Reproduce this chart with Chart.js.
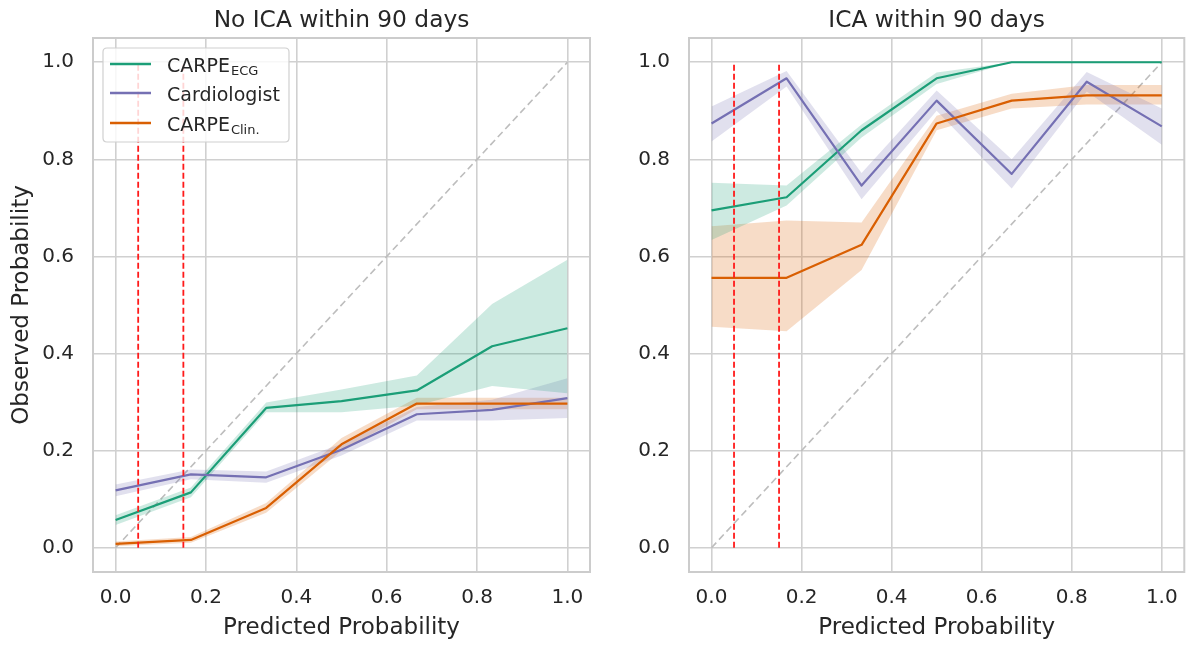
<!DOCTYPE html>
<html><head><meta charset="utf-8">
<script src="https://cdn.jsdelivr.net/npm/chart.js@4.4.1/dist/chart.umd.min.js"></script>
<style>
html,body{margin:0;padding:0;background:#fff;}
#wrap{position:relative;width:1192px;height:645px;overflow:hidden;background:#fff;}
canvas{position:absolute;top:0;}
#c1{left:0;} #c2{left:600px;}
</style></head><body>
<div id="wrap"><canvas id="c1" width="600" height="645"></canvas><canvas id="c2" width="592" height="645"></canvas></div>
<script>
// ---- data ----
const probBins = [0, 0.1667, 0.3333, 0.5, 0.6667, 0.8333, 1.0];
const tickValues = [0, 0.2, 0.4, 0.6, 0.8, 1.0];
const thresholds = [0.05, 0.15];
const panelTitles = ['No ICA within 90 days', 'ICA within 90 days'];
const seriesMain = ['CARPE', 'Cardiologist', 'CARPE'];
const seriesSub = ['ECG', '', 'Clin.'];
const seriesColors = ['#1b9e77', '#7570b3', '#d95f02'];

// panel 1: No ICA within 90 days
const ecgMeanL  = [0.057, 0.114, 0.288, 0.302, 0.324, 0.415, 0.452];
const ecgLoL    = [0.047, 0.104, 0.279, 0.279, 0.293, 0.333, 0.318];
const ecgHiL    = [0.067, 0.124, 0.299, 0.326, 0.355, 0.502, 0.593];
const cardMeanL = [0.118, 0.151, 0.145, 0.202, 0.275, 0.284, 0.308];
const cardLoL   = [0.106, 0.141, 0.134, 0.190, 0.262, 0.262, 0.267];
const cardHiL   = [0.130, 0.161, 0.157, 0.214, 0.290, 0.305, 0.349];
const clinMeanL = [0.008, 0.016, 0.082, 0.213, 0.297, 0.297, 0.297];
const clinLoL   = [0.003, 0.010, 0.072, 0.200, 0.285, 0.285, 0.285];
const clinHiL   = [0.013, 0.022, 0.092, 0.226, 0.309, 0.309, 0.309];

// panel 2: ICA within 90 days
const ecgMeanR  = [0.695, 0.722, 0.860, 0.967, 1.0, 1.0, 1.0];
const ecgLoR    = [0.634, 0.705, 0.845, 0.955, 1.0, 1.0, 1.0];
const ecgHiR    = [0.752, 0.746, 0.872, 0.979, 1.0, 1.0, 1.0];
const cardMeanR = [0.874, 0.967, 0.746, 0.921, 0.770, 0.960, 0.868];
const cardLoR   = [0.837, 0.950, 0.718, 0.900, 0.740, 0.940, 0.830];
const cardHiR   = [0.909, 0.982, 0.772, 0.942, 0.800, 0.980, 0.905];
const clinMeanR = [0.556, 0.556, 0.624, 0.874, 0.921, 0.932, 0.932];
const clinLoR   = [0.455, 0.446, 0.572, 0.860, 0.905, 0.913, 0.913];
const clinHiR   = [0.662, 0.674, 0.670, 0.890, 0.935, 0.953, 0.953];

// ---- helpers ----
Chart.defaults.font.family = '"DejaVu Sans", sans-serif';
Chart.defaults.color = '#262626';
const TXT = '#262626';
const GRID = '#d0d0d0';

function pts(ys){ return ys.map((y,i)=>({x: probBins[i], y})); }
function rgba(hex, a){
  const n = parseInt(hex.slice(1),16);
  return `rgba(${(n>>16)&255},${(n>>8)&255},${n&255},${a})`;
}
function buildDatasets(means, los, his){
  const ds = [];
  ds.push({data:[{x:0,y:0},{x:1,y:1}], borderColor:'#bdbdbd', borderWidth:1.6, borderDash:[7,4], pointRadius:0, fill:false, order:30});
  for (let i=0;i<means.length;i++){
    ds.push({data:pts(his[i]), borderColor:'rgba(0,0,0,0)', borderWidth:0, backgroundColor:rgba(seriesColors[i],0.22), fill:'+1', pointRadius:0, order:20});
    ds.push({data:pts(los[i]), borderColor:'rgba(0,0,0,0)', borderWidth:0, fill:false, pointRadius:0, order:20});
  }
  for (let i=0;i<means.length;i++){
    ds.push({data:pts(means[i]), borderColor:seriesColors[i], borderWidth:2.2, borderJoinStyle:'round', fill:false, pointRadius:0, order:10-i});
  }
  thresholds.forEach(t=>{
    ds.push({data:[{x:t,y:0},{x:t,y:1}], borderColor:'#ff1a1a', borderWidth:1.8, borderDash:[6,3], pointRadius:0, fill:false, order:1});
  });
  return ds;
}

const decor = {
  id:'decor',
  afterDraw(chart, args, opts){
    const {ctx, chartArea:a} = chart;
    ctx.save();
    ctx.strokeStyle = '#cccccc'; ctx.lineWidth = 2;
    ctx.strokeRect(a.left, a.top, a.right-a.left, a.bottom-a.top);
    ctx.fillStyle = TXT;
    ctx.font = '23.3px "DejaVu Sans"';
    ctx.textAlign = 'center'; ctx.textBaseline = 'alphabetic';
    ctx.fillText(opts.title, (a.left+a.right)/2, 27);
    if (opts.legend){
      const bx = a.left+10, by = a.top+10, bw = 186, bh = 94, r = 4;
      ctx.beginPath();
      ctx.moveTo(bx+r,by); ctx.lineTo(bx+bw-r,by); ctx.quadraticCurveTo(bx+bw,by,bx+bw,by+r);
      ctx.lineTo(bx+bw,by+bh-r); ctx.quadraticCurveTo(bx+bw,by+bh,bx+bw-r,by+bh);
      ctx.lineTo(bx+r,by+bh); ctx.quadraticCurveTo(bx,by+bh,bx,by+bh-r);
      ctx.lineTo(bx,by+r); ctx.quadraticCurveTo(bx,by,bx+r,by); ctx.closePath();
      ctx.fillStyle = 'rgba(255,255,255,0.82)'; ctx.fill();
      ctx.strokeStyle = '#d0d0d0'; ctx.lineWidth = 1.2; ctx.stroke();
      const rows = [by+16, by+45, by+75];
      ctx.textAlign = 'left';
      for (let i=0;i<3;i++){
        ctx.strokeStyle = seriesColors[i]; ctx.lineWidth = 2.4;
        ctx.beginPath(); ctx.moveTo(bx+7, rows[i]); ctx.lineTo(bx+48, rows[i]); ctx.stroke();
        ctx.fillStyle = TXT;
        ctx.font = '19px "DejaVu Sans"';
        ctx.textBaseline = 'alphabetic';
        const base = rows[i] + 8;
        ctx.fillText(seriesMain[i], bx+64, base);
        if (seriesSub[i]){
          const w = ctx.measureText(seriesMain[i]).width;
          ctx.font = '13px "DejaVu Sans"';
          ctx.fillText(seriesSub[i], bx+64+w+1, base+2.5);
        }
      }
    }
    ctx.restore();
  }
};

function makeChart(id, title, means, los, his, yWidth, padRight, showYTitle, showLegend){
  return new Chart(document.getElementById(id), {
    type:'line',
    data:{datasets: buildDatasets(means, los, his)},
    plugins:[decor],
    options:{
      responsive:false, animation:false, devicePixelRatio:1,
      layout:{padding:{top:38, right:padRight, left:0, bottom:0}},
      plugins:{legend:{display:false}, tooltip:{enabled:false}, decor:{title, legend:showLegend}},
      scales:{
        x:{type:'linear', min:-0.05, max:1.05,
          afterBuildTicks(s){ s.ticks = tickValues.map(v=>({value:v})); },
          afterFit(s){ s.height = 73; },
          ticks:{font:{size:20}, color:TXT, padding:14, maxRotation:0, callback:v=>Number(v).toFixed(1)},
          grid:{color:GRID, lineWidth:1.6, drawTicks:false},
          border:{display:false},
          title:{display:true, text:'Predicted Probability', font:{size:23}, color:TXT, padding:{top:0,bottom:3}}
        },
        y:{type:'linear', min:-0.05, max:1.05,
          afterBuildTicks(s){ s.ticks = tickValues.map(v=>({value:v})); },
          afterFit(s){ s.width = yWidth; },
          ticks:{font:{size:20}, color:TXT, padding:19, callback:v=>Number(v).toFixed(1)},
          grid:{color:GRID, lineWidth:1.6, drawTicks:false},
          border:{display:false},
          title:{display:showYTitle, text:'Observed Probability', font:{size:23}, color:TXT, padding:{top:8,bottom:0}}
        }
      }
    }
  });
}

makeChart('c1', panelTitles[0], [ecgMeanL, cardMeanL, clinMeanL], [ecgLoL, cardLoL, clinLoL], [ecgHiL, cardHiL, clinHiL], 93, 10, true, true);
makeChart('c2', panelTitles[1], [ecgMeanR, cardMeanR, clinMeanR], [ecgLoR, cardLoR, clinLoR], [ecgHiR, cardHiR, clinHiR], 89, 7, false, false);
</script>
</body></html>
